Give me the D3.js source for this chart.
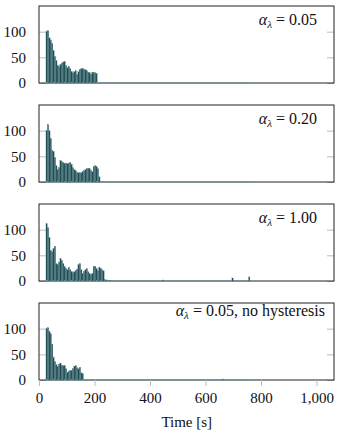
<!DOCTYPE html>
<html>
<head>
<meta charset="utf-8">
<script src="https://cdn.jsdelivr.net/npm/d3@7"></script>
<style>
  body { margin: 0; background: #fff; }
  svg { display: block; font-family: "Liberation Serif", "DejaVu Serif", serif; }
</style>
</head>
<body>
<svg id="viz" width="345" height="441"></svg>
<script>
/* Data */

// histogram bins of 5 s, first bin starts at 25 s
const binStart = 25;
const binWidth = 5;
const binEnd = 760;

const labels = ['0.05', '0.20', '1.00', '0.05, no hysteresis'];

const counts005 = [101, 102, 88, 84, 77, 63, 52, 44, 35, 32, 36, 39, 41, 42, 34, 30, 33, 28, 23, 20,
  22, 24, 17, 22, 26, 28, 29, 27, 26, 24, 21, 20, 17, 21, 21, 20, 19];
const counts020 = [100, 112, 100, 85, 62, 60, 48, 32, 24, 28, 42, 40, 38, 37, 37, 36, 37, 38, 35, 28,
  24, 22, 19, 18, 18, 18, 20, 22, 24, 26, 27, 26, 23, 20, 30, 32, 30, 26, 10];
const counts100 = [112, 104, 85, 60, 57, 64, 68, 34, 32, 37, 44, 40, 34, 28, 25, 22, 27, 22, 19, 17,
  18, 20, 23, 32, 34, 22, 15, 19, 22, 24, 18, 14, 13, 15, 28, 29, 25, 20, 27, 25,
  22, 20, 3, 2, 2, 1, 1];
const countsNoHyst = [100, 102, 95, 90, 70, 45, 36, 30, 27, 31, 33, 29, 28, 28, 22, 15, 17, 19, 18, 22,
  27, 28, 24, 22, 25, 14, 12];

// isolated late bins
const extraTimes = [[], [], [445, 695, 755], [660]];
const extraCounts = [[], [], [2, 6, 8], [2]];

const series = [counts005, counts020, counts100, countsNoHyst];

const xTicks = [0, 200, 400, 600, 800, 1000];
const yTicks = [0, 50, 100];

/* Visualization */

const svg = d3.select('#viz');

const left = 39;
const right = 334;
const panelTops = [6, 105, 204, 303];
const panelHeight = 77;

const fillColor = '#1f4d56';
const edgeColor = '#6d9297';
const tickColor = '#bdbdbd';
const fontSize = 15;

const xScale = d3.scaleLinear().domain([0, 1063]).range([left, right]);

function bins(counts, i) {
  const out = counts.map((n, k) => ({ t: binStart + k * binWidth, n: n }));
  extraTimes[i].forEach((t, k) => out.push({ t: t, n: extraCounts[i][k] }));
  return out;
}

function styleAxis(a) {
  a.attr('font-family', null).attr('font-size', null);
  a.select('.domain').remove();
  a.selectAll('line').attr('stroke', tickColor);
  a.selectAll('text').attr('font-size', fontSize).attr('fill', '#111');
}

series.forEach((counts, i) => {
  const top = panelTops[i];
  const yScale = d3.scaleLinear().domain([0, 150]).range([top + panelHeight, top]);
  const g = svg.append('g');

  // y axis, ticks inside on both sides
  g.append('g')
    .attr('transform', `translate(${left},0)`)
    .call(d3.axisLeft(yScale).tickValues(yTicks).tickSize(-7).tickPadding(13))
    .call(styleAxis);

  g.append('g')
    .attr('transform', `translate(${right},0)`)
    .call(d3.axisRight(yScale).tickValues(yTicks).tickSize(-7).tickFormat(''))
    .call(styleAxis);

  // frame
  g.append('rect')
    .attr('x', left).attr('y', top)
    .attr('width', right - left).attr('height', panelHeight)
    .attr('fill', 'none').attr('stroke', '#222').attr('stroke-width', 1);

  // zero-height bins drawn as outline along the bottom
  g.append('line')
    .attr('x1', xScale(binStart)).attr('x2', xScale(binEnd))
    .attr('y1', yScale(0)).attr('y2', yScale(0))
    .attr('stroke', edgeColor).attr('stroke-width', 1.2);

  // bars
  g.selectAll('rect.bar')
    .data(bins(counts, i))
    .join('rect')
    .attr('class', 'bar')
    .attr('x', (d) => xScale(d.t))
    .attr('width', (d) => xScale(d.t + binWidth) - xScale(d.t))
    .attr('y', (d) => yScale(d.n))
    .attr('height', (d) => yScale(0) - yScale(d.n))
    .attr('fill', fillColor)
    .attr('stroke', edgeColor)
    .attr('stroke-width', 0.25);

  // label
  const label = g.append('text')
    .attr('x', i === 3 ? 325 : 317)
    .attr('y', top + (i === 3 ? 13 : 19))
    .attr('text-anchor', 'end')
    .attr('font-size', 16)
    .attr('fill', '#111');
  label.append('tspan').attr('font-style', 'italic').text('α');
  label.append('tspan').attr('font-style', 'italic').attr('font-size', 11).attr('dy', 3).text('λ');
  label.append('tspan').attr('dy', -3).text(' = ' + labels[i]);
});

// x axis on bottom panel
const bottom = panelTops[3] + panelHeight;
svg.append('g')
  .attr('transform', `translate(0,${bottom})`)
  .call(d3.axisBottom(xScale).tickValues(xTicks).tickSize(6).tickPadding(6).tickFormat(d3.format(',')))
  .call(styleAxis);

svg.append('text')
  .attr('x', (xScale(0) + xScale(1000)) / 2 + 9)
  .attr('y', 427)
  .attr('text-anchor', 'middle')
  .attr('font-size', fontSize)
  .attr('fill', '#111')
  .text('Time [s]');
</script>
</body>
</html>
